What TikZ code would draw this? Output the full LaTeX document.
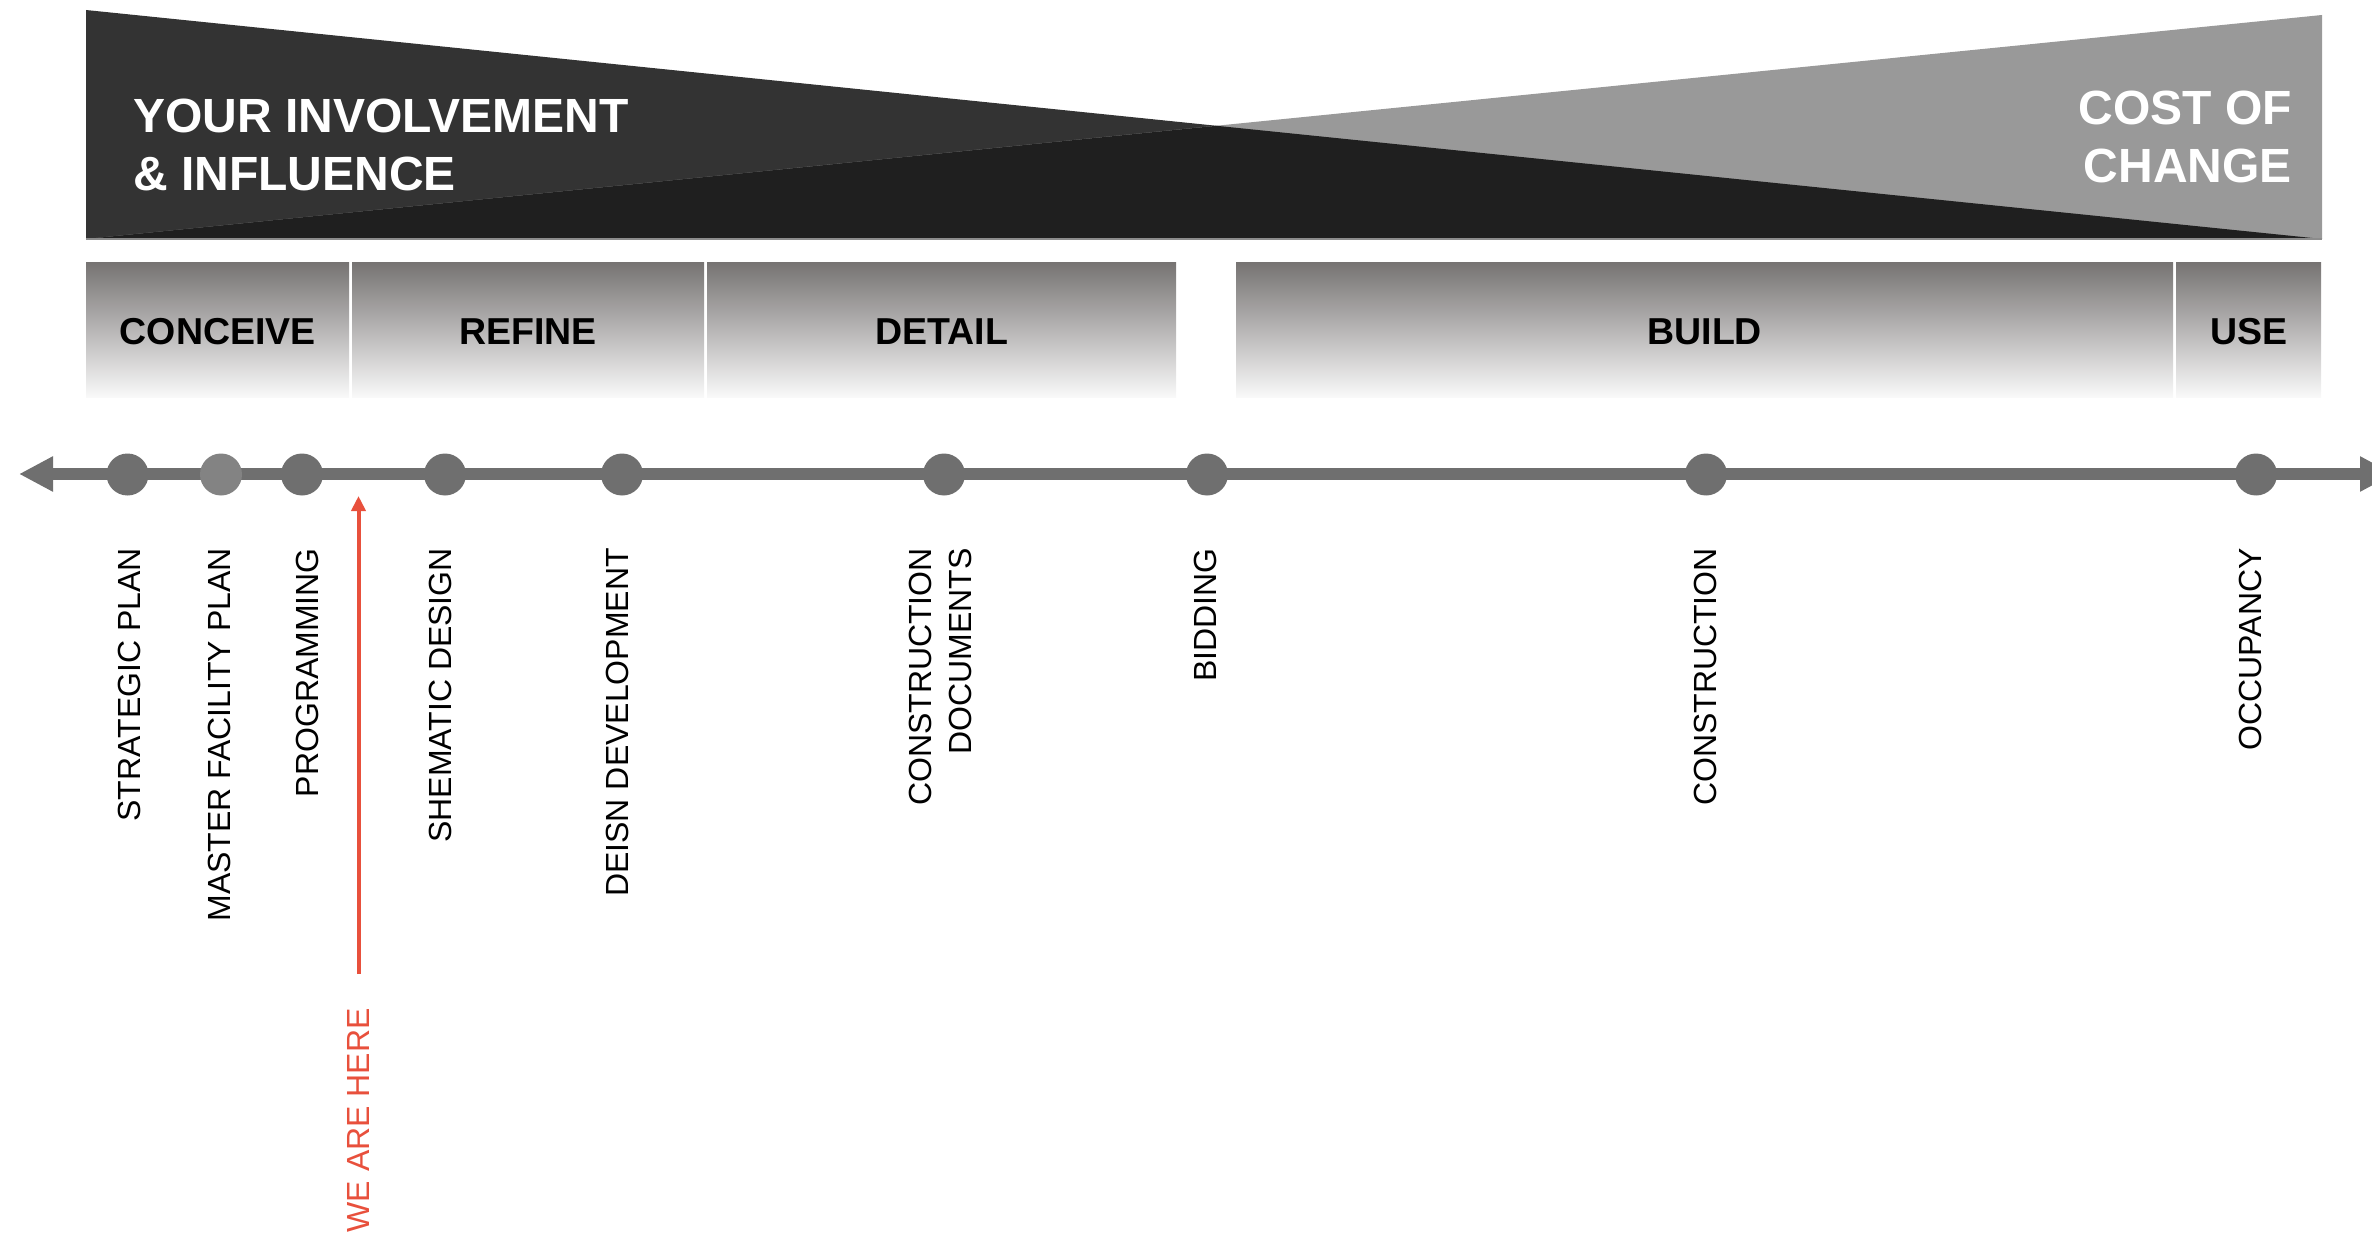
\documentclass[tikz,border=0pt]{standalone}
\usepackage{fontspec}
\setmainfont{Liberation Sans}
\usetikzlibrary{arrows.meta,calc}
\definecolor{darkband}{HTML}{333333}
\definecolor{greyband}{HTML}{999999}
\definecolor{overlapband}{HTML}{1F1F1F}
\definecolor{bandedge}{HTML}{8C8C8C}
\definecolor{tline}{HTML}{6F6F6F}
\definecolor{dotlight}{HTML}{838383}
\definecolor{boxtop}{RGB}{118,115,114}
\definecolor{boxbot}{RGB}{249,249,249}
\definecolor{herered}{RGB}{232,80,60}
\begin{document}
\begin{tikzpicture}[x=1pt,y=-1pt,
  headtext/.style={text=white, font=\bfseries\fontsize{48}{58}\selectfont, inner sep=0pt},
  phasebox/.style={top color=boxtop, bottom color=boxbot, draw=none, inner sep=0pt,
                   minimum height=135pt, anchor=north west,
                   text height=30pt, text depth=0pt,
                   font=\bfseries\fontsize{37.5}{44}\selectfont, text=black},
  milestone/.style={circle, fill=tline, minimum size=42pt, inner sep=0pt},
  steplabel/.style={rotate=90, anchor=east, inner sep=0pt,
                    font=\fontsize{32}{40}\selectfont, align=right},
  ]
\useasboundingbox (0,0) rectangle (2372,1233);
\clip (0,0) rectangle (2372,1233);

% ---- top band ----
\coordinate (bandTL) at (86,10);
\coordinate (bandBL) at (86,239);
\coordinate (bandBR) at (2322,239);
\coordinate (bandTR) at (2322,15);
\fill[darkband] (bandTL) -- (bandBR) -- (bandBL) -- cycle;
\fill[greyband] (bandTR) -- (bandBR) -- (bandBL) -- cycle;
\coordinate (cross) at (intersection of bandTL--bandBR and bandBL--bandTR);
\fill[overlapband] (bandBL) -- (cross) -- (bandBR) -- cycle;
\draw[bandedge, line width=1.5pt] (bandBL) -- (bandBR);

\node[headtext, anchor=north west, align=left] (infl) at (133,99)
  {YOUR INVOLVEMENT\\\& INFLUENCE};
\node[headtext, anchor=north east, align=right] (cost) at (2292,90.5)
  {COST OF\\CHANGE};

% ---- phase boxes ----
\node[phasebox, minimum width=263pt] (conceive) at (86,262) {CONCEIVE};
\node[phasebox, minimum width=352pt] (refine) at (352,262) {REFINE};
\node[phasebox, minimum width=469pt] (detail) at (707,262) {DETAIL};
\node[phasebox, minimum width=937pt] (build) at (1236,262) {BUILD};
\node[phasebox, minimum width=145pt] (use) at (2176,262) {USE};

% ---- timeline ----
\coordinate (tl) at (19,474);
\coordinate (tr) at (2394,474);
\draw[tline, line width=12pt,
  {Triangle[width=33pt,length=34pt]}-{Triangle[width=33pt,length=34pt]}] (tl) -- (tr);

\node[milestone] (m1) at (127.5,474.5) {};
\node[milestone, fill=dotlight] (m2) at (221,474.5) {};
\node[milestone] (m3) at (302,474.5) {};
\node[milestone] (m4) at (445,474.5) {};
\node[milestone] (m5) at (622,474.5) {};
\node[milestone] (m6) at (944,474.5) {};
\node[milestone] (m7) at (1207,474.5) {};
\node[milestone] (m8) at (1706,474.5) {};
\node[milestone] (m9) at (2256,474.5) {};

% ---- milestone labels ----
\node[steplabel] (l1) at (129,548) {STRATEGIC PLAN};
\node[steplabel] (l2) at (219,548) {MASTER FACILITY PLAN};
\node[steplabel] (l3) at (307,548) {PROGRAMMING};
\node[steplabel] (l4) at (440,548) {SHEMATIC DESIGN};
\node[steplabel] (l5) at (617,548) {DEISN DEVELOPMENT};
\node[steplabel] (l6) at (940,548) {CONSTRUCTION\\DOCUMENTS};
\node[steplabel] (l7) at (1205,548) {BIDDING};
\node[steplabel] (l8) at (1705.5,548) {CONSTRUCTION};
\node[steplabel] (l9) at (2250,548) {OCCUPANCY};

% ---- we are here ----
\node[steplabel, text=herered] (here) at (358.5,1008) {WE ARE HERE};
\coordinate (hereBot) at (358.5,974);
\coordinate (hereTop) at (358.5,496);
\draw[herered, line width=4pt, -{Triangle[width=14pt,length=15pt]}] (hereBot) -- (hereTop);
\end{tikzpicture}
\end{document}
